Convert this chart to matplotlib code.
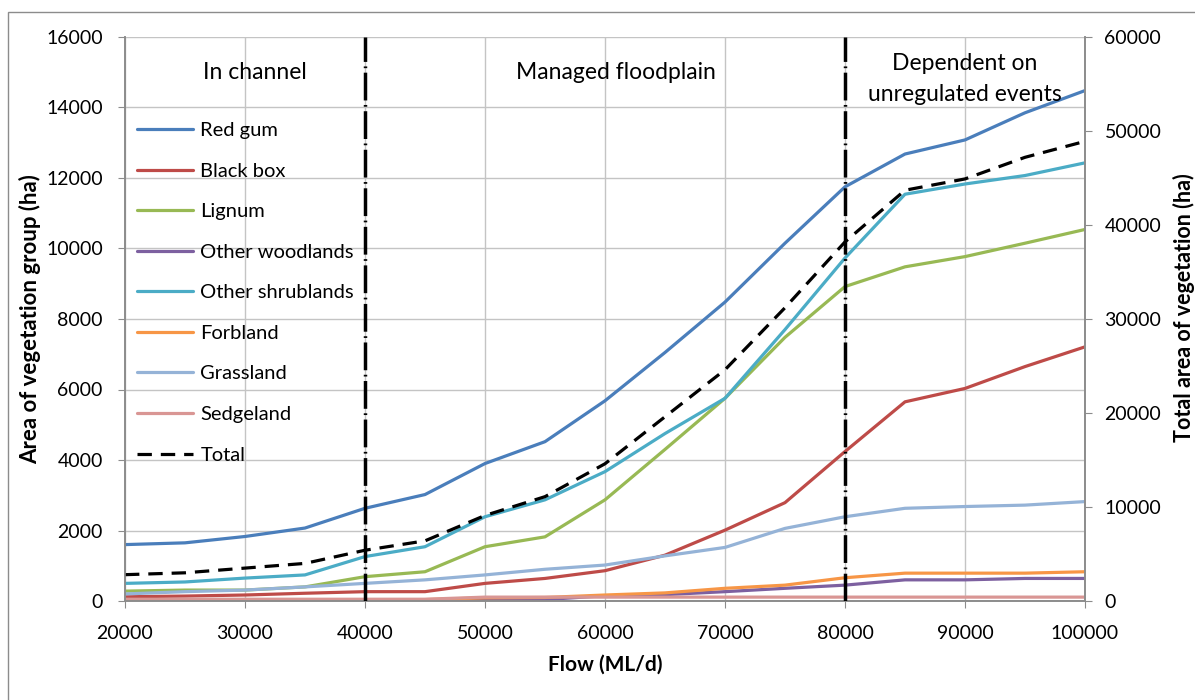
import numpy as np
import matplotlib
matplotlib.use("Agg")
import matplotlib.pyplot as plt
from matplotlib.patches import Rectangle

plt.rcParams['font.family'] = ['Lato', 'DejaVu Sans']

# flow steps (ML/d)
flow = [20000, 25000, 30000, 35000, 40000, 45000, 50000, 55000, 60000,
        65000, 70000, 75000, 80000, 85000, 90000, 95000, 100000]

# area of each vegetation group (ha)
red_gum = [1600, 1650, 1830, 2070, 2630, 3020, 3900, 4520, 5680,
           7050, 8480, 10150, 11750, 12680, 13080, 13850, 14480]
black_box = [120, 140, 170, 220, 265, 265, 500, 640, 860,
             1300, 2010, 2790, 4240, 5650, 6030, 6650, 7210]
lignum = [280, 310, 310, 400, 690, 830, 1540, 1820, 2870,
          4300, 5750, 7480, 8920, 9480, 9770, 10150, 10540]
other_woodlands = [20, 20, 20, 20, 20, 20, 30, 40, 150,
                   180, 265, 360, 450, 600, 600, 640, 640]
other_shrublands = [500, 540, 650, 740, 1260, 1540, 2390, 2870, 3670,
                    4750, 5750, 7700, 9730, 11540, 11830, 12070, 12430]
forbland = [30, 30, 30, 30, 40, 40, 90, 100, 170,
            230, 360, 450, 660, 790, 790, 790, 830]
grassland = [200, 265, 310, 400, 500, 600, 740, 900, 1020,
             1280, 1520, 2060, 2390, 2630, 2680, 2720, 2820]
sedgeland = [50, 50, 50, 50, 50, 50, 110, 110, 110,
             110, 110, 110, 110, 110, 110, 110, 110]

# total area (ha), right axis
total = [2800, 3000, 3500, 4000, 5400, 6400, 9100, 11100, 14600,
         19600, 24600, 31200, 38200, 43700, 44900, 47200, 48900]

groups = ["Red gum", "Black box", "Lignum", "Other woodlands",
          "Other shrublands", "Forbland", "Grassland", "Sedgeland"]
series = [red_gum, black_box, lignum, other_woodlands,
          other_shrublands, forbland, grassland, sedgeland]
colors = ["#4A7EBB", "#BE4B48", "#98B954", "#7D60A0",
          "#4BACC6", "#F79646", "#95B3D7", "#D99694"]

# zone boundaries and labels
zone_edges = [40000, 80000]
zone_labels = ["In channel", "Managed floodplain", "Dependent on\nunregulated events"]
zone_x = [30800, 60900, 90000]
zone_y = [14980, 14980, 14800]

fig = plt.figure(figsize=(11.95, 7.0), dpi=100)
fig.patches.append(Rectangle((8 / 1195, -0.1), 1.2, 1.1 - 12 / 700,
                             transform=fig.transFigure, fill=False,
                             edgecolor="#8c8c8c", linewidth=1.0))

ax = fig.add_axes([125 / 1195, 1 - 601 / 700, 960 / 1195, 564 / 700])
ax2 = ax.twinx()

handles = []
for name, vals, c in zip(groups, series, colors):
    h, = ax.plot(flow, vals, color=c, lw=2.3, label=name, solid_capstyle="round")
    handles.append(h)

ht, = ax2.plot(flow, total, color="black", lw=2.3, dashes=(4.5, 2.8), label="Total")
handles.append(ht)

for xe in zone_edges:
    ax2.axvline(xe, color="black", lw=2.5, linestyle=(0, (8, 1.3, 0.5, 1.3)), zorder=5)

ax.set_xlim(20000, 100000)
ax.set_ylim(0, 16000)
ax2.set_ylim(0, 60000)
ax.set_xticks(np.arange(20000, 100001, 10000))
ax.set_yticks(np.arange(0, 16001, 2000))
ax2.set_yticks(np.arange(0, 60001, 10000))

ax.grid(True, color="#c4c4c4", lw=1.0)
ax.set_axisbelow(True)

for a in (ax, ax2):
    for s in a.spines.values():
        s.set_color("#8c8c8c")
        s.set_linewidth(1.2)
    a.spines["top"].set_visible(False)

ax.tick_params(axis="y", labelsize=14, length=5, color="#8c8c8c", pad=11)
ax.tick_params(axis="x", labelsize=14, length=5, color="#8c8c8c", pad=12)
ax2.tick_params(axis="y", labelsize=14, length=5, color="#8c8c8c", pad=9)

ax.set_xlabel("Flow (ML/d)", fontsize=15, fontweight="bold")
ax.xaxis.set_label_coords(0.5, -0.0957)
ax.set_ylabel("Area of vegetation group (ha)", fontsize=16, fontweight="bold")
ax.yaxis.set_label_coords(-0.0875, 0.5)
ax2.set_ylabel("Total area of vegetation (ha)", fontsize=15.5, fontweight="bold")
ax2.yaxis.set_label_coords(1.0915, 0.52)

for lbl, xz, yz in zip(zone_labels, zone_x, zone_y):
    ax.text(xz, yz, lbl, fontsize=16.5, ha="center", va="center",
            linespacing=1.6)

ax2.legend(handles=handles, loc="upper left", frameon=False, fontsize=14.5,
           bbox_to_anchor=(137 / 1195, 1 - 122 / 700), bbox_transform=fig.transFigure,
           borderpad=0, borderaxespad=0, handlelength=2.8, handletextpad=0.35,
           labelspacing=1.165)

fig.savefig("out.png", dpi=100)
